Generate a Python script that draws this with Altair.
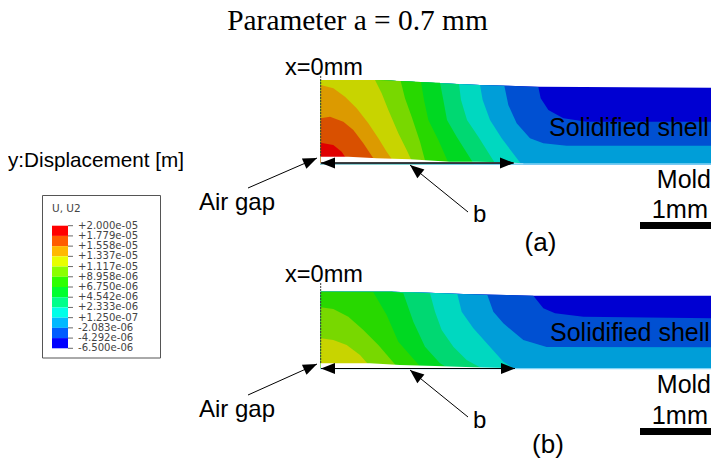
import math
import altair as alt
import pandas as pd

# Everything in its own pixel frame.
X_DOM = [8, 711]
Y_DOM = [461, 8]
xs = alt.Scale(domain=X_DOM, nice=False, zero=False)
ys = alt.Scale(domain=Y_DOM, nice=False, zero=False)

BAND_COLORS = ["#0000d2", "#0050d2", "#009ed8", "#00d8c0", "#00d872", "#00d822",
               "#28d800", "#78d800", "#c8d400", "#dc9a00", "#d95000", "#e00000"]

# crop readings: panel (a) crop origin (300,50), panel (b) crop origin (300,260), 3x
BASE_A = 343
LEVELS_A = [
    [(62, 90), (230, 90), (305, 94), (390, 98), (470, 102), (540, 105), (625, 107), (720, 110), (1254, 113)],
    [(62, 90), (230, 90), (305, 94), (390, 98), (470, 102), (540, 105), (625, 107), (715, 111), (722, 145), (745, 180), (790, 205), (860, 215), (1254, 215)],
    [(62, 90), (230, 90), (305, 94), (390, 98), (470, 102), (540, 105), (613, 107), (625, 165), (650, 220), (690, 265), (730, 280), (800, 287), (1254, 287)],
    [(62, 90), (230, 90), (305, 94), (390, 98), (470, 102), (540, 105), (548, 150), (570, 210), (605, 265), (664, 343)],
    [(62, 90), (230, 90), (305, 94), (390, 98), (477, 102), (483, 150), (501, 210), (535, 260), (587, 343)],
    [(62, 90), (230, 90), (305, 94), (363, 96), (420, 98), (430, 150), (441, 210), (470, 260), (522, 343)],
    [(62, 90), (230, 90), (305, 94), (363, 96), (372, 150), (385, 210), (415, 270), (447, 343)],
    [(62, 90), (230, 90), (302, 93), (315, 145), (335, 200), (360, 275), (378, 343)],
    [(62, 90), (225, 90), (245, 130), (265, 180), (295, 250), (320, 300), (340, 343)],
    [(62, 105), (100, 115), (135, 140), (170, 175), (205, 220), (235, 265), (260, 305), (286, 343)],
    [(62, 205), (90, 200), (130, 215), (160, 240), (190, 280), (232, 343)],
    [(62, 278), (100, 285), (125, 305), (150, 343)],
]
GAP_A = [(62, 320), (145, 320), (230, 325), (330, 328), (450, 335), (530, 335), (610, 337), (670, 340)]

BASE_B = 325
LEVELS_B = [
    [(62, 95), (275, 95), (385, 98), (490, 102), (620, 105), (700, 107), (1254, 107)],
    [(62, 95), (275, 95), (385, 98), (490, 102), (620, 105), (700, 107), (730, 145), (765, 160), (850, 170), (1254, 175)],
    [(62, 95), (275, 95), (385, 98), (490, 102), (562, 105), (580, 155), (610, 190), (670, 240), (740, 261), (1254, 262)],
    [(62, 95), (275, 95), (385, 98), (472, 102), (485, 155), (520, 205), (565, 255), (610, 305), (640, 325)],
    [(62, 95), (275, 95), (390, 100), (405, 155), (425, 210), (460, 260), (500, 300), (545, 325)],
    [(62, 95), (275, 95), (310, 100), (340, 185), (375, 260), (420, 310), (445, 325)],
    [(62, 95), (220, 97), (260, 165), (295, 245), (330, 285), (365, 325)],
    [(62, 142), (100, 147), (145, 170), (190, 210), (235, 255), (295, 325)],
    [(62, 235), (100, 240), (140, 255), (180, 285), (215, 325)],
]
COLORS_B = BAND_COLORS[:9]
GAP_B = [(62, 310), (210, 310), (300, 315), (405, 318), (520, 322), (620, 324)]

LEGEND_LABELS = ["+2.000e-05", "+1.779e-05", "+1.558e-05", "+1.337e-05", "+1.117e-05",
                 "+8.958e-06", "+6.750e-06", "+4.542e-06", "+2.333e-06", "+1.250e-07",
                 "-2.083e-06", "-4.292e-06", "-6.500e-06"]
LEGEND_COLORS = ["#ff0000", "#ff5c00", "#ffb900", "#e8ff00", "#8bff00", "#2eff00",
                 "#00ff2e", "#00ff8b", "#00ffe8", "#00b9ff", "#005cff", "#0000ff"]

SANS = "Liberation Sans"
TEXTS = [
    ("Parameter a = 0.7 mm", 357.5, 30, 29.4, "Liberation Serif", "center"),
    ("x=0mm", 285, 75, 23.6, SANS, "left"),
    ("x=0mm", 285, 281.7, 23.6, SANS, "left"),
    ("y:Displacement [m]", 8, 167, 20.7, SANS, "left"),
    ("Air gap", 199, 210, 24, SANS, "left"),
    ("Air gap", 199, 417, 24, SANS, "left"),
    ("b", 473, 222, 24, SANS, "left"),
    ("b", 473, 428, 24, SANS, "left"),
    ("Solidified shell", 549, 136, 25, SANS, "left"),
    ("Solidified shell", 550, 340.7, 25, SANS, "left"),
    ("Mold", 711, 187.7, 25, SANS, "right"),
    ("Mold", 711, 393, 25, SANS, "right"),
    ("1mm", 708, 218, 25.3, SANS, "right"),
    ("1mm", 708, 424, 25.3, SANS, "right"),
    ("(a)", 540.5, 251, 26, SANS, "center"),
    ("(b)", 548, 453, 26, SANS, "center"),
]

ARROWS = [  # tail x, tail y, tip x, tip y
    (248, 188, 317, 158),
    (468, 212, 410, 165),
    (248, 395, 317, 364),
    (468, 417, 410, 370),
    (513, 163, 321, 163),
    (321, 163, 514, 163),
    (515, 368.5, 321, 368.5),
    (321, 368.5, 515, 368.5),
]
SCALE_BARS = [(640, 711, 225.5), (640, 711, 431.5)]
DASHES = [(320.7, 76, 157), (320.7, 283, 364)]
MOLD_LINES = [(320, 711, 164), (320, 711, 368.6)]


def X(f="x"):
    return alt.X(f"{f}:Q", scale=xs, axis=None)


def Y(f="y"):
    return alt.Y(f"{f}:Q", scale=ys, axis=None)


def crop(points, oy):
    return [(300 + a / 3, oy + b / 3) for a, b in points]


def area(points, base_y, color):
    df = pd.DataFrame(points, columns=["x", "y"])
    df["y2"] = base_y
    return alt.Chart(df).mark_area(color=color, opacity=1, orient="vertical").encode(
        x=X(), y=Y(), y2="y2:Q")


def line(x0, y0, x1, y1, color="#000", width=1.0, dash=None):
    df = pd.DataFrame({"x": [x0], "y": [y0], "x2": [x1], "y2": [y1]})
    kw = {"strokeDash": dash} if dash else {}
    if y0 == y1:
        return alt.Chart(df).mark_rule(color=color, strokeWidth=width, **kw).encode(x=X(), x2="x2:Q", y=Y())
    if x0 == x1:
        return alt.Chart(df).mark_rule(color=color, strokeWidth=width, **kw).encode(x=X(), y=Y(), y2="y2:Q")
    df2 = pd.DataFrame({"x": [x0, x1], "y": [y0, y1], "o": [0, 1]})
    return alt.Chart(df2).mark_line(color=color, strokeWidth=width, **kw).encode(x=X(), y=Y(), order="o:Q")


layers = []
for lv, col in zip(LEVELS_A, BAND_COLORS):
    layers.append(area(crop(lv, 50), 50 + BASE_A / 3, col))
layers.append(area(crop(GAP_A, 50), 50 + BASE_A / 3, "#ffffff"))
for lv, col in zip(LEVELS_B, COLORS_B):
    layers.append(area(crop(lv, 260), 260 + BASE_B / 3, col))
layers.append(area(crop(GAP_B, 260), 260 + BASE_B / 3, "#ffffff"))

layers.append(line(MOLD_LINES[0][0], MOLD_LINES[0][2], MOLD_LINES[0][1], MOLD_LINES[0][2], color="#7fd4f6", width=1.5))
layers.append(line(MOLD_LINES[1][0], MOLD_LINES[1][2], MOLD_LINES[1][1], MOLD_LINES[1][2], color="#7fd4f6", width=1.2))

for x0, y0, y1 in DASHES:
    layers.append(line(x0, y0, x0, y1, color="#3a3a3a", width=1, dash=[2, 1]))

for x0, x1, y in SCALE_BARS:
    layers.append(line(x0, y, x1, y, width=7))

HEAD = "M0,0L0.8,2L-0.8,2Z"
for tx, ty, hx, hy in ARROWS:
    layers.append(line(tx, ty, hx, hy, width=1))
    ang = math.degrees(math.atan2(hx - tx, -(hy - ty))) % 360
    df = pd.DataFrame({"x": [hx], "y": [hy]})
    layers.append(alt.Chart(df).mark_point(shape=HEAD, filled=True, color="#000", opacity=1, size=196,
                                           angle=ang, strokeWidth=0).encode(x=X(), y=Y()))

# legend box
box = pd.DataFrame({"x": [42.5], "x2": [160.5], "y": [195.5], "y2": [358]})
layers.append(alt.Chart(box).mark_rect(fill="#ffffff", stroke="#555555", strokeWidth=1).encode(
    x=X(), x2="x2:Q", y=Y(), y2="y2:Q"))
STEP = (348.3 - 225.7) / 12
cells = pd.DataFrame({
    "x": [52] * 12, "x2": [68] * 12,
    "y": [225.7 + i * STEP for i in range(12)],
    "y2": [225.7 + (i + 1) * STEP for i in range(12)],
    "c": LEGEND_COLORS,
})
layers.append(alt.Chart(cells).mark_rect().encode(
    x=X(), x2="x2:Q", y=Y(), y2="y2:Q", color=alt.Color("c:N", scale=None)))
ticks = pd.DataFrame({"y": [225.7 + i * STEP for i in range(13)], "x": [68] * 13, "x2": [73] * 13,
                      "t": LEGEND_LABELS, "lx": [78] * 13})
layers.append(alt.Chart(ticks).mark_rule(color="#444", strokeWidth=0.8).encode(x=X(), x2="x2:Q", y=Y()))
layers.append(alt.Chart(ticks).mark_text(align="left", baseline="middle", font="DejaVu Sans", fontSize=10.1,
                                         color="#444").encode(x=X("lx"), y=Y(), text="t:N"))
layers.append(alt.Chart(pd.DataFrame({"x": [52], "y": [212], "t": ["U, U2"]})).mark_text(
    align="left", baseline="alphabetic", font="DejaVu Sans", fontSize=10.5, color="#444").encode(x=X(), y=Y(), text="t:N"))

for t, x, y, size, font, al in TEXTS:
    layers.append(alt.Chart(pd.DataFrame({"x": [x], "y": [y], "t": [t]})).mark_text(
        align=al, baseline="alphabetic", font=font, fontSize=size, color="#000").encode(x=X(), y=Y(), text="t:N"))

chart = alt.layer(*layers).properties(width=703, height=453, padding=0, autosize="none").configure_view(stroke=None)
chart.save("out.html", embed_options={"renderer": "svg", "actions": False})
